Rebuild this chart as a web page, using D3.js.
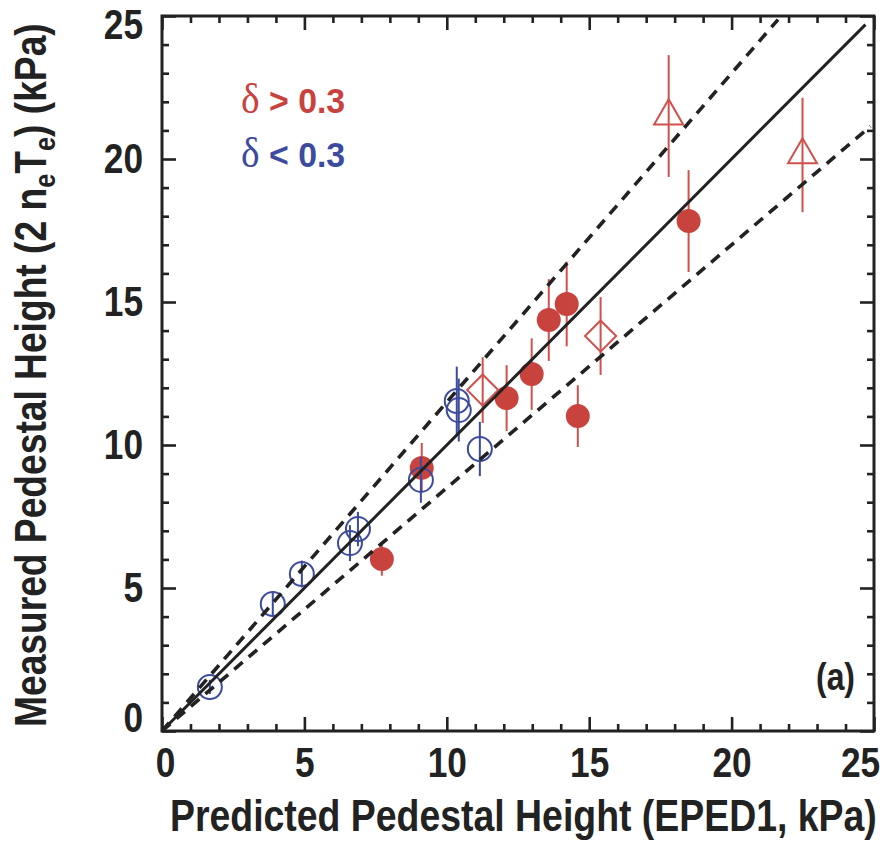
<!DOCTYPE html>
<html><head><meta charset="utf-8">
<script src="https://cdn.jsdelivr.net/npm/d3@7"></script>
<style>
body{margin:0;background:#fff;}
text{font-family:"Liberation Sans",Arial,Helvetica,sans-serif;font-weight:bold;}
</style></head>
<body>
<svg id="chart" width="884" height="849"></svg>
<script>
// ---- data (kPa) ----
const blueOpenX   = [1.68, 3.89, 4.91, 6.60, 6.88, 9.09, 10.35, 10.42, 11.16];
const blueOpenY   = [1.54, 4.44, 5.49, 6.57, 7.06, 8.78, 11.54, 11.22, 9.86];
const blueOpenErr = [0.25, 0.40, 0.47, 0.63, 0.60, 0.80, 1.20, 1.10, 0.95];

const redFilledX   = [7.72, 9.12, 12.10, 12.98, 13.58, 14.21, 14.60, 18.49];
const redFilledY   = [6.01, 9.20, 11.64, 12.48, 14.37, 14.93, 11.01, 17.83];
const redFilledErr = [0.58, 0.87, 1.15, 1.25, 1.43, 1.48, 1.08, 1.78];

const redDiamondX   = [11.26, 15.40];
const redDiamondY   = [11.92, 13.81];
const redDiamondErr = [1.15, 1.36];

const redTriangleX   = [17.79, 22.49];
const redTriangleY   = [21.50, 20.14];
const redTriangleErr = [2.13, 2.00];

const majorTicks = [0, 5, 10, 15, 20, 25];
const minorTicks = d3.range(0, 26).filter(v => v % 5 !== 0);
const slopes = [1.0, 1.15, 0.85];   // y = x and +/-15% bands

const xTitle = "Predicted Pedestal Height (EPED1, kPa)";
const legendHigh = ["δ", " > 0.3"];
const legendLow  = ["δ", " < 0.3"];
const panelLabel = "(a)";

// ---- layout ----
const svg = d3.select("#chart");
const X0 = 162, X1 = 874, Y0 = 731, Y1 = 16;
const SX = 0.84; // horizontal squeeze to mimic condensed type
const x = d3.scaleLinear().domain([0, 25]).range([X0, X1]);
const y = d3.scaleLinear().domain([0, 25]).range([Y0, Y1]);
const ink = "#222";
const red = "#c8433d", redLight = "#d0504c", blue = "#3d4b9e";

function zip(xs, ys, es){ return xs.map((v,i)=>({x:v, y:ys[i], e:es[i]})); }
const blueOpen = zip(blueOpenX, blueOpenY, blueOpenErr);
const redFilled = zip(redFilledX, redFilledY, redFilledErr);
const redDiamond = zip(redDiamondX, redDiamondY, redDiamondErr);
const redTriangle = zip(redTriangleX, redTriangleY, redTriangleErr);

// ---- axes ----
function styleAxis(g){
  g.select(".domain").remove();
  g.selectAll(".tick line").attr("stroke", ink).attr("stroke-width", 2.6);
  g.selectAll(".tick text").attr("fill", ink).attr("font-size", 42);
}
const axB = svg.append("g").attr("transform", `translate(0,${Y0})`)
  .call(d3.axisBottom(x).tickValues(majorTicks).tickSize(-14).tickPadding(16).tickFormat(d3.format("d")));
styleAxis(axB);
axB.selectAll(".tick text").attr("transform", `scale(${SX},1)`);
svg.append("g").attr("transform", `translate(0,${Y0})`)
  .call(d3.axisBottom(x).tickValues(minorTicks).tickSize(-7).tickFormat("")).call(styleAxis);
svg.append("g").attr("transform", `translate(0,${Y1})`)
  .call(d3.axisTop(x).tickValues(majorTicks).tickSize(-14).tickFormat("")).call(styleAxis);
svg.append("g").attr("transform", `translate(0,${Y1})`)
  .call(d3.axisTop(x).tickValues(minorTicks).tickSize(-7).tickFormat("")).call(styleAxis);
const axL = svg.append("g").attr("transform", `translate(${X0},0)`)
  .call(d3.axisLeft(y).tickValues(majorTicks).tickSize(-14).tickFormat(d3.format("d")));
styleAxis(axL);
axL.selectAll(".tick text").attr("x", -19 / SX).attr("transform", `scale(${SX},1)`);
svg.append("g").attr("transform", `translate(${X0},0)`)
  .call(d3.axisLeft(y).tickValues(minorTicks).tickSize(-7).tickFormat("")).call(styleAxis);
svg.append("g").attr("transform", `translate(${X1},0)`)
  .call(d3.axisRight(y).tickValues(majorTicks).tickSize(-14).tickFormat("")).call(styleAxis);
svg.append("g").attr("transform", `translate(${X1},0)`)
  .call(d3.axisRight(y).tickValues(minorTicks).tickSize(-7).tickFormat("")).call(styleAxis);

// nudge edge labels inside like the original
axL.selectAll(".tick text").filter(d => d === 0).attr("y", -13);
axL.selectAll(".tick text").filter(d => d === 25).attr("y", 9);
axB.selectAll(".tick text").filter(d => d === 25).attr("x", -14 / SX);
axB.selectAll(".tick text").filter(d => d === 0).attr("x", 3 / SX);

// frame
svg.append("rect").attr("x", X0).attr("y", Y1).attr("width", X1 - X0).attr("height", Y0 - Y1)
  .attr("fill", "none").attr("stroke", ink).attr("stroke-width", 3);

// ---- points ----
const pts = svg.append("g");
function errBars(data, color){
  pts.append("g").selectAll("line").data(data).join("line")
    .attr("x1", d => x(d.x)).attr("x2", d => x(d.x))
    .attr("y1", d => y(d.y - d.e)).attr("y2", d => y(d.y + d.e))
    .attr("stroke", color).attr("stroke-width", 2);
}
errBars(redFilled, redLight);
errBars(redDiamond, redLight);
errBars(redTriangle, redLight);
pts.append("g").selectAll("circle").data(redFilled).join("circle")
  .attr("cx", d => x(d.x)).attr("cy", d => y(d.y)).attr("r", 12).attr("fill", red);
pts.append("g").selectAll("path").data(redDiamond).join("path")
  .attr("d", d3.symbol(d3.symbolSquare, 484))
  .attr("transform", d => `translate(${x(d.x)},${y(d.y)}) rotate(45)`)
  .attr("fill", "none").attr("stroke", redLight).attr("stroke-width", 2);
pts.append("g").selectAll("path").data(redTriangle).join("path")
  .attr("d", d3.symbol(d3.symbolTriangle, 364))
  .attr("transform", d => `translate(${x(d.x)},${y(d.y)})`)
  .attr("fill", "none").attr("stroke", redLight).attr("stroke-width", 2);
errBars(blueOpen, blue);
pts.append("g").selectAll("circle").data(blueOpen).join("circle")
  .attr("cx", d => x(d.x)).attr("cy", d => y(d.y)).attr("r", 12)
  .attr("fill", "none").attr("stroke", blue).attr("stroke-width", 2);

// ---- reference lines ----
const lines = svg.append("g");
slopes.forEach(s => {
  const xe = Math.min(25, 25 / s) * (s === 1 ? 0.988 : 0.995);
  lines.append("line")
    .attr("x1", x(0)).attr("y1", y(0)).attr("x2", x(xe)).attr("y2", y(s * xe))
    .attr("stroke", ink).attr("stroke-width", s === 1 ? 3 : 3.6)
    .attr("stroke-dasharray", s === 1 ? null : "11,8");
});

// ---- legend ----
function legend(parts, color, yb){
  const g = svg.append("g").attr("transform", `translate(241,${yb}) scale(0.94,1)`);
  const t = g.append("text").attr("fill", color).attr("font-size", 36);
  t.append("tspan").text(parts[0]).style("font-family", "'Liberation Serif','DejaVu Serif',serif").style("font-weight", "normal").attr("font-size", 42);
  t.append("tspan").text(parts[1]);
}
legend(legendHigh, red, 113);
legend(legendLow, blue, 167);

svg.append("g").attr("transform", `translate(855,690) scale(${SX},1)`)
  .append("text").attr("text-anchor", "end")
  .attr("font-size", 38).attr("fill", ink).text(panelLabel);

// ---- axis titles (squeezed to the original's width) ----
function fitText(sel, target){
  const L = sel.node().getComputedTextLength();
  return target / L;
}
const xg = svg.append("g");
const xt = xg.append("text").attr("font-size", 44).attr("fill", ink).text(xTitle);
xg.attr("transform", `translate(170,831) scale(${fitText(xt, 707)},1)`);

const yg = svg.append("g");
const yt = yg.append("text").attr("font-size", 44).attr("fill", ink);
yt.append("tspan").text("Measured Pedestal Height (2 n");
yt.append("tspan").text("e").attr("font-size", 30).attr("dy", 9);
yt.append("tspan").text("T").attr("dy", -9);
yt.append("tspan").text("e").attr("font-size", 30).attr("dy", 9);
yt.append("tspan").text(") (kPa)").attr("dy", -9);
yg.attr("transform", `translate(46,727) rotate(-90) scale(${fitText(yt, 704)},1)`);
</script>
</body></html>
